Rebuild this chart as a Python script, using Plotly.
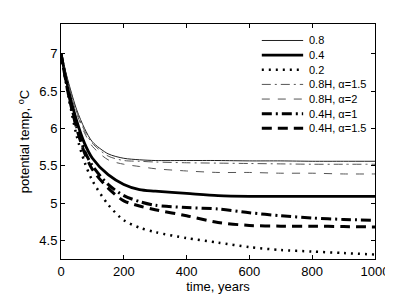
import plotly.graph_objects as go

t = [0, 25, 50, 75, 100, 150, 200, 250, 300, 400, 500, 600, 700, 800, 900, 1000]

s08 = [7.0, 6.60, 6.25, 6.00, 5.82, 5.66, 5.60, 5.58, 5.57, 5.57, 5.57, 5.565, 5.565, 5.56, 5.56, 5.56]
s04 = [7.0, 6.50, 6.10, 5.80, 5.60, 5.38, 5.25, 5.18, 5.16, 5.13, 5.10, 5.09, 5.09, 5.09, 5.09, 5.09]
s02 = [7.0, 6.40, 5.90, 5.55, 5.30, 4.98, 4.77, 4.67, 4.61, 4.53, 4.47, 4.41, 4.37, 4.35, 4.33, 4.31]
s08H15 = [7.0, 6.58, 6.22, 5.97, 5.80, 5.63, 5.57, 5.56, 5.55, 5.54, 5.535, 5.53, 5.525, 5.52, 5.52, 5.52]
s08H2 = [7.0, 6.55, 6.20, 5.94, 5.76, 5.58, 5.52, 5.49, 5.46, 5.43, 5.41, 5.41, 5.40, 5.40, 5.39, 5.39]
s04H1 = [7.0, 6.45, 6.02, 5.70, 5.50, 5.25, 5.10, 5.02, 4.97, 4.94, 4.92, 4.87, 4.83, 4.80, 4.78, 4.77]
s04H15 = [7.0, 6.43, 6.00, 5.67, 5.45, 5.20, 5.03, 4.96, 4.91, 4.83, 4.74, 4.70, 4.69, 4.69, 4.685, 4.68]

names = ["0.8", "0.4", "0.2", "0.8H, α=1.5", "0.8H, α=2", "0.4H, α=1", "0.4H, α=1.5"]
series = [s08, s04, s02, s08H15, s08H2, s04H1, s04H15]
styles = [
    dict(color="#222", width=1, dash="solid"),
    dict(color="black", width=2.8, dash="solid"),
    dict(color="black", width=2.5, dash="2px,5px"),
    dict(color="#555", width=1, dash="9px,4px,2px,4px"),
    dict(color="#555", width=1, dash="8px,8px"),
    dict(color="black", width=3, dash="10px,4px,2px,4px"),
    dict(color="black", width=3, dash="10px,6px"),
]

fig = go.Figure()
for n, s, st in zip(names, series, styles):
    fig.add_trace(go.Scatter(x=t, y=s, name=n, mode="lines", showlegend=False,
                             line=dict(shape="spline", smoothing=0.8, **st)))

# legend drawn as paper-positioned samples (spacing tighter than Plotly's legend allows)
W, H = 393, 295
ml, mr, mt, mb = 53, 21, 16, 41
pw, ph = W - ml - mr, H - mt - mb
lx0, lx1, ltx = (257 - ml) / pw, (299 - ml) / pw, (303 - ml) / pw
for i, (n, st) in enumerate(zip(names, styles)):
    ypx = 32.7 + i * 14.83
    yp = (H - mb - ypx) / ph
    fig.add_shape(type="line", xref="paper", yref="paper", x0=lx0, x1=lx1, y0=yp, y1=yp,
                  line=dict(color=st["color"], width=st["width"], dash=st["dash"]))
    fig.add_annotation(xref="paper", yref="paper", x=ltx, y=yp, text=n, showarrow=False,
                       xanchor="left", yanchor="middle", font=dict(size=11, color="black"))

axis = dict(showline=True, linecolor="black", linewidth=1, mirror="allticks", ticks="inside",
            ticklen=4, tickcolor="black", showgrid=False, zeroline=False,
            tickfont=dict(size=13, color="black"))
fig.update_layout(
    width=W, height=H,
    margin=dict(l=ml, r=mr, t=mt, b=mb),
    plot_bgcolor="white", paper_bgcolor="white",
    font=dict(family="Liberation Sans, Arial, sans-serif", color="black"),
    xaxis=dict(range=[0, 1000], tickvals=[0, 200, 400, 600, 800, 1000],
               title=dict(text="time, years", font=dict(size=13), standoff=3), **axis),
    yaxis=dict(range=[4.25, 7.4], tickvals=[4.5, 5, 5.5, 6, 6.5, 7],
               title=dict(text="potential temp, <sup>o</sup>C", font=dict(size=13), standoff=6), **axis),
    showlegend=False,
)
fig.write_html("out.html")
